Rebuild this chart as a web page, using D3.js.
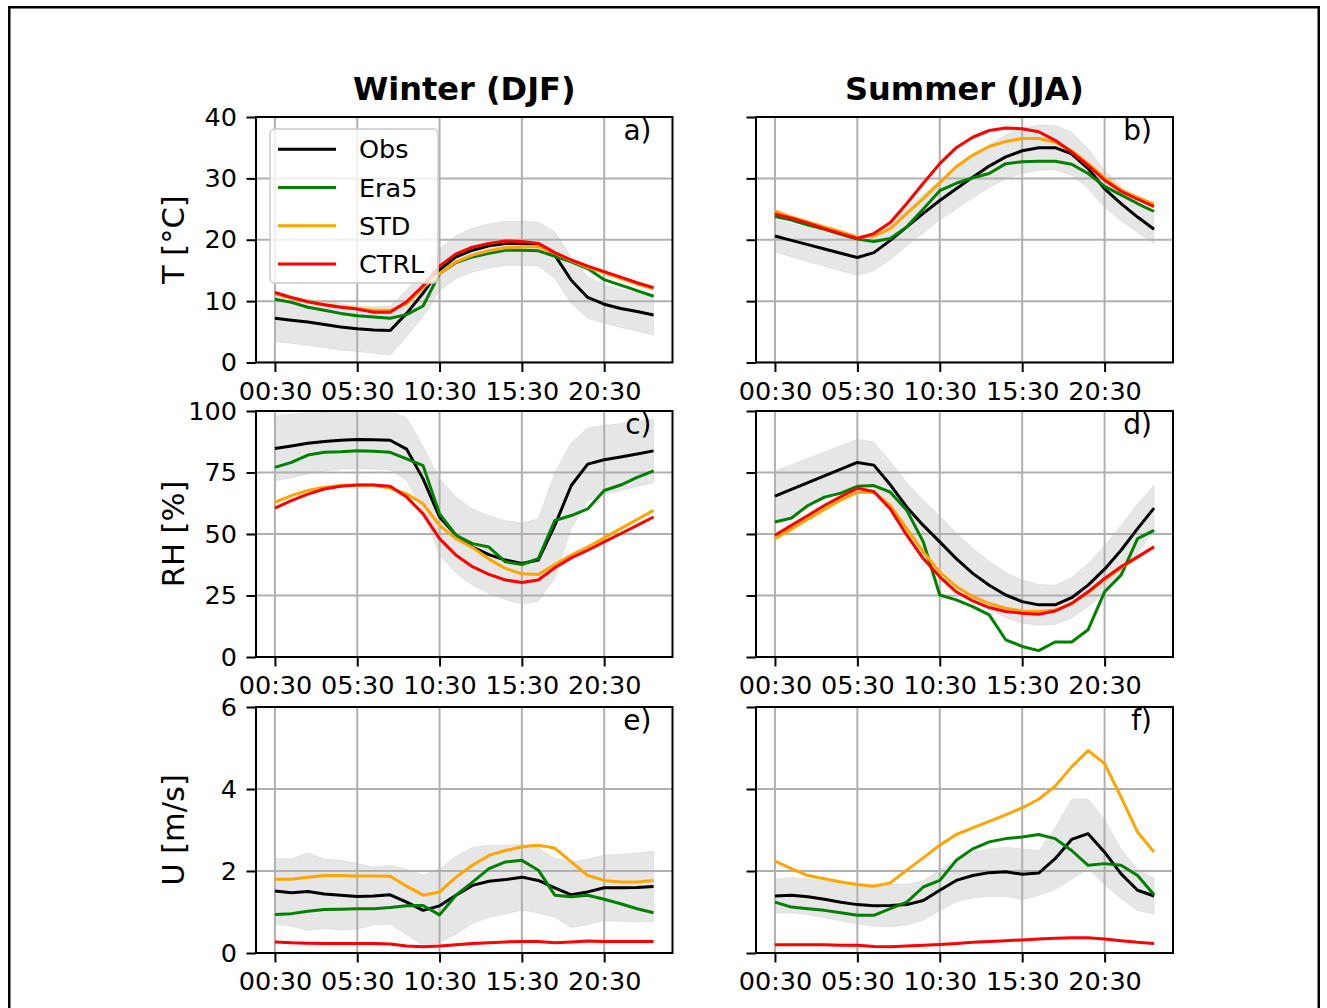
<!DOCTYPE html>
<html>
<head>
<meta charset="utf-8">
<script src="https://cdn.jsdelivr.net/npm/d3@7"></script>
<style>
  body { margin: 0; background: #fff; }
  svg { display: block; }
  text { font-family: "DejaVu Sans", "Noto Sans", sans-serif; fill: #000; }
</style>
</head>
<body>
<svg id="chart" width="1327" height="1008"></svg>
<script>
// ---- hourly categories -------------------------------------------------
const hours = ["00:30","01:30","02:30","03:30","04:30","05:30","06:30","07:30",
               "08:30","09:30","10:30","11:30","12:30","13:30","14:30","15:30",
               "16:30","17:30","18:30","19:30","20:30","21:30","22:30","23:30"];
const tickHours = ["00:30","05:30","10:30","15:30","20:30"];

const seasons = ["Winter (DJF)", "Summer (JJA)"];
const varLabels = ["T [°C]", "RH [%]", "U [m/s]"];
const varDomains = [[0, 40], [0, 100], [0, 6]];
const varTicks = [[0, 10, 20, 30, 40], [0, 25, 50, 75, 100], [0, 2, 4, 6]];
const panelLetters = [["a)", "b)"], ["c)", "d)"], ["e)", "f)"]];

const seriesNames = ["Obs", "Era5", "STD", "CTRL"];
const seriesColors = ["#000000", "#008000", "#ffa500", "#ff0000"];

// ---- temperature, winter ----------------------------------------------
const obsT_DJF  = [7.2, 6.9, 6.6, 6.2, 5.8, 5.5, 5.3, 5.2, 8.0, 11.3, 15.1, 17.2, 18.3, 19.0, 19.4, 19.4, 19.3, 17.5, 13.4, 10.6, 9.5, 8.8, 8.3, 7.75];
const sdT_DJF   = [3.8, 3.8, 3.8, 3.8, 3.8, 3.7, 3.8, 4.0, 3.8, 3.8, 3.4, 3.5, 3.6, 3.6, 3.6, 3.6, 3.6, 3.8, 3.8, 3.4, 3.1, 3.1, 3.2, 3.3];
const era5T_DJF = [10.3, 9.8, 9.0, 8.5, 8.0, 7.6, 7.4, 7.2, 7.8, 9.2, 14.5, 16.3, 17.2, 17.8, 18.3, 18.3, 18.2, 17.3, 16.4, 15.3, 13.5, 12.6, 11.7, 10.8];
const stdT_DJF  = [11.2, 10.5, 9.9, 9.4, 9.1, 8.8, 8.5, 8.5, 9.6, 12.2, 14.5, 16.4, 17.5, 18.2, 18.7, 18.8, 18.9, 17.8, 16.6, 15.5, 14.6, 13.7, 12.8, 12.0];
const ctrlT_DJF = [11.4, 10.6, 9.9, 9.4, 9.0, 8.7, 8.2, 8.2, 9.9, 12.5, 15.7, 17.7, 18.8, 19.4, 19.8, 19.7, 19.4, 17.9, 16.7, 15.7, 14.8, 13.9, 13.0, 12.2];

// ---- temperature, summer ----------------------------------------------
const obsT_JJA  = [20.6, 19.9, 19.2, 18.5, 17.8, 17.1, 17.9, 19.9, 22.1, 24.3, 26.4, 28.3, 30.2, 32.0, 33.5, 34.5, 35.0, 35.0, 34.0, 31.6, 28.3, 25.9, 23.7, 21.7];
const sdT_JJA   = [2.6, 2.7, 2.8, 2.8, 2.9, 2.9, 3.0, 3.1, 3.1, 3.2, 3.2, 3.3, 3.4, 3.5, 3.6, 3.7, 3.7, 3.6, 3.5, 3.3, 3.0, 2.8, 2.5, 2.3];
const era5T_JJA = [23.8, 23.2, 22.4, 21.7, 20.9, 20.1, 19.7, 20.2, 22.1, 25.0, 28.0, 29.2, 30.1, 30.8, 32.4, 32.7, 32.8, 32.8, 32.3, 30.8, 28.7, 27.3, 25.9, 24.6];
const stdT_JJA  = [24.7, 23.7, 22.9, 22.1, 21.3, 20.4, 20.6, 21.8, 24.3, 26.7, 29.3, 31.9, 33.8, 35.2, 36.0, 36.5, 36.5, 35.9, 34.5, 32.4, 30.1, 28.1, 26.9, 25.8];
const ctrlT_JJA = [24.2, 23.5, 22.7, 21.8, 21.0, 20.2, 21.0, 22.8, 25.9, 29.2, 32.4, 35.0, 36.7, 37.8, 38.2, 38.1, 37.6, 36.2, 34.3, 32.1, 29.7, 27.9, 26.6, 25.4];

// ---- relative humidity, winter ----------------------------------------
const obsRH_DJF  = [84.8, 85.8, 86.9, 87.6, 88.1, 88.4, 88.3, 88.1, 84.5, 72.4, 56.9, 49.5, 44.7, 41.6, 39.4, 38.0, 39.4, 53.5, 69.7, 78.4, 80.2, 81.3, 82.5, 83.8];
const sdRH_DJF   = [13.2, 13.0, 12.5, 12.0, 11.8, 12.0, 12.0, 12.0, 12.8, 13.4, 15.5, 15.5, 15.5, 15.8, 16.1, 16.5, 16.8, 21.5, 17.5, 14.8, 14.0, 13.6, 13.2, 13.0];
const era5RH_DJF = [77.1, 79.1, 82.1, 83.2, 83.4, 83.8, 83.6, 83.2, 80.5, 77.8, 58.2, 49.5, 46.1, 44.7, 38.7, 37.6, 40.0, 55.5, 57.5, 60.2, 67.7, 69.9, 73.0, 75.7];
const stdRH_DJF  = [62.9, 65.6, 67.7, 69.0, 69.7, 69.9, 69.9, 68.6, 66.3, 62.3, 53.5, 48.1, 44.5, 39.8, 36.0, 33.8, 33.5, 37.6, 41.4, 44.7, 48.4, 52.2, 55.9, 59.6];
const ctrlRH_DJF = [60.5, 63.6, 66.2, 68.3, 69.4, 69.9, 69.9, 69.4, 65.0, 58.2, 48.1, 41.4, 36.7, 33.6, 31.3, 30.3, 31.3, 36.3, 40.3, 43.4, 46.8, 50.1, 53.5, 56.9];

// ---- relative humidity, summer ----------------------------------------
const obsRH_JJA  = [65.4, 68.1, 70.9, 73.6, 76.4, 79.1, 78.0, 70.0, 60.9, 53.5, 46.8, 40.0, 34.0, 29.2, 25.2, 22.5, 21.2, 21.2, 24.1, 29.2, 35.7, 43.4, 52.2, 60.5];
const sdRH_JJA   = [10.3, 10.1, 9.9, 9.7, 9.6, 9.4, 9.4, 9.6, 10.0, 10.3, 10.5, 10.5, 10.2, 9.8, 9.3, 8.8, 8.3, 8.0, 8.2, 8.8, 9.6, 10.2, 10.0, 9.3];
const era5RH_JJA = [54.9, 56.5, 61.6, 65.0, 66.6, 69.4, 69.7, 67.0, 59.6, 46.8, 25.2, 23.2, 20.5, 17.1, 7.0, 4.3, 2.6, 6.1, 6.1, 11.1, 26.5, 33.3, 48.1, 51.5];
const stdRH_JJA  = [48.1, 52.0, 56.0, 60.0, 63.8, 67.0, 67.0, 61.6, 52.2, 42.7, 34.6, 28.6, 24.5, 21.8, 19.8, 18.7, 18.5, 19.1, 21.6, 26.2, 31.5, 36.4, 40.5, 44.9];
const ctrlRH_JJA = [49.5, 53.5, 57.5, 61.6, 65.2, 68.6, 67.3, 60.2, 49.5, 40.0, 32.6, 26.5, 22.8, 20.1, 18.5, 17.8, 17.4, 18.7, 21.8, 26.5, 31.9, 36.7, 40.7, 44.7];

// ---- wind speed, winter -----------------------------------------------
const obsU_DJF  = [1.51, 1.47, 1.50, 1.44, 1.41, 1.38, 1.39, 1.42, 1.24, 1.04, 1.15, 1.41, 1.65, 1.75, 1.79, 1.85, 1.77, 1.59, 1.42, 1.49, 1.59, 1.59, 1.60, 1.62];
const sdU_DJF   = [0.80, 0.82, 0.95, 0.85, 0.85, 0.80, 0.70, 0.72, 0.80, 0.86, 0.90, 0.95, 0.93, 0.88, 0.84, 0.80, 0.80, 0.72, 0.80, 0.80, 0.80, 0.82, 0.84, 0.86];
const era5U_DJF = [0.94, 0.96, 1.02, 1.06, 1.07, 1.08, 1.08, 1.11, 1.15, 1.16, 0.93, 1.41, 1.73, 2.06, 2.22, 2.26, 2.02, 1.41, 1.37, 1.41, 1.31, 1.20, 1.08, 0.98];
const stdU_DJF  = [1.80, 1.80, 1.85, 1.89, 1.89, 1.88, 1.88, 1.87, 1.63, 1.41, 1.49, 1.85, 2.14, 2.38, 2.50, 2.59, 2.63, 2.56, 2.22, 1.89, 1.77, 1.73, 1.73, 1.77];
const ctrlU_DJF = [0.27, 0.25, 0.24, 0.23, 0.23, 0.23, 0.23, 0.22, 0.17, 0.15, 0.17, 0.20, 0.23, 0.25, 0.27, 0.28, 0.28, 0.25, 0.27, 0.29, 0.28, 0.28, 0.28, 0.28];

// ---- wind speed, summer -----------------------------------------------
const obsU_JJA  = [1.39, 1.41, 1.37, 1.31, 1.24, 1.18, 1.15, 1.16, 1.18, 1.28, 1.53, 1.77, 1.89, 1.96, 1.98, 1.92, 1.95, 2.30, 2.77, 2.91, 2.46, 1.93, 1.53, 1.39];
const sdU_JJA   = [0.42, 0.43, 0.44, 0.45, 0.46, 0.47, 0.50, 0.52, 0.50, 0.48, 0.50, 0.52, 0.55, 0.58, 0.60, 0.62, 0.55, 0.75, 0.98, 0.85, 0.80, 0.60, 0.50, 0.44];
const era5U_JJA = [1.24, 1.12, 1.08, 1.04, 0.98, 0.92, 0.92, 1.08, 1.24, 1.61, 1.77, 2.26, 2.54, 2.71, 2.79, 2.83, 2.89, 2.79, 2.50, 2.14, 2.18, 2.14, 1.89, 1.42];
const stdU_JJA  = [2.24, 2.06, 1.89, 1.81, 1.73, 1.67, 1.63, 1.71, 2.02, 2.32, 2.63, 2.89, 3.05, 3.21, 3.37, 3.54, 3.75, 4.07, 4.54, 4.94, 4.62, 3.80, 2.95, 2.46];
const ctrlU_JJA = [0.20, 0.20, 0.20, 0.20, 0.19, 0.19, 0.16, 0.15, 0.17, 0.19, 0.21, 0.23, 0.26, 0.28, 0.30, 0.32, 0.34, 0.36, 0.37, 0.37, 0.34, 0.30, 0.26, 0.23];

// panel grid: rows = variables, columns = seasons
const panels = [
  [ { obs: obsT_DJF,  sd: sdT_DJF,  models: [era5T_DJF,  stdT_DJF,  ctrlT_DJF]  },
    { obs: obsT_JJA,  sd: sdT_JJA,  models: [era5T_JJA,  stdT_JJA,  ctrlT_JJA]  } ],
  [ { obs: obsRH_DJF, sd: sdRH_DJF, models: [era5RH_DJF, stdRH_DJF, ctrlRH_DJF] },
    { obs: obsRH_JJA, sd: sdRH_JJA, models: [era5RH_JJA, stdRH_JJA, ctrlRH_JJA] } ],
  [ { obs: obsU_DJF,  sd: sdU_DJF,  models: [era5U_DJF,  stdU_DJF,  ctrlU_DJF]  },
    { obs: obsU_JJA,  sd: sdU_JJA,  models: [era5U_JJA,  stdU_JJA,  ctrlU_JJA]  } ]
];

// ---- layout ------------------------------------------------------------
const colX = [[256, 672.5], [756, 1173]];
const rowY = [[117, 362.5], [411, 657], [707, 953]];
const tickFont = 25.5;
const lineW = 3;

const svg = d3.select("#chart");
svg.append("rect").attr("width", 1327).attr("height", 1008).attr("fill", "#fff");

// outer frame
svg.append("rect")
  .attr("x", 9.25).attr("y", 7.25).attr("width", 1309.5).attr("height", 1030)
  .attr("fill", "none").attr("stroke", "#000").attr("stroke-width", 2.5);

const defs = svg.append("defs");

panels.forEach((row, r) => {
  row.forEach((p, c) => {
    const [x0, x1] = colX[c];
    const [y0, y1] = rowY[r];
    const x = d3.scalePoint().domain(hours).range([x0, x1]).padding(1.15);
    const y = d3.scaleLinear().domain(varDomains[r]).range([y1, y0]);

    const clipId = `clip-${r}-${c}`;
    defs.append("clipPath").attr("id", clipId)
      .append("rect").attr("x", x0).attr("y", y0).attr("width", x1 - x0).attr("height", y1 - y0);

    const g = svg.append("g");
    const plot = g.append("g").attr("clip-path", `url(#${clipId})`);

    // observation spread (mean ± std)
    const band = d3.area()
      .x((d, i) => x(hours[i]))
      .y0((d, i) => y(d - p.sd[i]))
      .y1((d, i) => y(d + p.sd[i]));
    plot.append("path").datum(p.obs)
      .attr("d", band).attr("fill", "#808080").attr("fill-opacity", 0.2)
      .attr("stroke", "#808080").attr("stroke-opacity", 0.12).attr("stroke-width", 1);

    // grid
    plot.selectAll(".gx").data(tickHours).join("line")
      .attr("x1", d => x(d)).attr("x2", d => x(d)).attr("y1", y0).attr("y2", y1)
      .attr("stroke", "#b0b0b0").attr("stroke-width", 2);
    plot.selectAll(".gy").data(varTicks[r]).join("line")
      .attr("x1", x0).attr("x2", x1).attr("y1", d => y(d)).attr("y2", d => y(d))
      .attr("stroke", "#b0b0b0").attr("stroke-width", 2);

    // series lines
    const line = d3.line().x((d, i) => x(hours[i])).y(d => y(d));
    [p.obs, ...p.models].forEach((vals, k) => {
      plot.append("path").datum(vals)
        .attr("d", line).attr("fill", "none")
        .attr("stroke", seriesColors[k]).attr("stroke-width", lineW)
        .attr("stroke-linejoin", "round");
    });

    // axes
    const xAxis = d3.axisBottom(x).tickValues(tickHours).tickSize(9.5).tickPadding(9.5);
    const gx = g.append("g").attr("transform", `translate(0,${y1})`).call(xAxis);
    const yAxis = d3.axisLeft(y).tickValues(varTicks[r]).tickSize(9.5).tickPadding(9.5)
      .tickFormat(c === 0 ? d3.format("d") : () => "");
    const gy = g.append("g").attr("transform", `translate(${x0},0)`).call(yAxis);
    [gx, gy].forEach(a => {
      a.select(".domain").remove();
      a.selectAll(".tick line").attr("stroke", "#000").attr("stroke-width", 2);
      a.selectAll(".tick text")
        .attr("font-family", '"DejaVu Sans", sans-serif')
        .attr("font-size", tickFont).attr("fill", "#000");
    });

    // spines
    g.append("rect")
      .attr("x", x0).attr("y", y0).attr("width", x1 - x0).attr("height", y1 - y0)
      .attr("fill", "none").attr("stroke", "#000").attr("stroke-width", 2);

    // panel letter
    g.append("text")
      .attr("x", x1 - 21).attr("y", y0 + 23)
      .attr("text-anchor", "end").attr("font-size", 28)
      .text(panelLetters[r][c]);

    // column titles
    if (r === 0) {
      g.append("text")
        .attr("x", (x0 + x1) / 2).attr("y", 100)
        .attr("text-anchor", "middle").attr("font-size", 32).attr("font-weight", "bold")
        .text(seasons[c]);
    }

    // row labels
    if (c === 0) {
      g.append("text")
        .attr("transform", `translate(184,${(y0 + y1) / 2}) rotate(-90)`)
        .attr("text-anchor", "middle").attr("font-size", 30.5)
        .text(varLabels[r]);
    }

    // legend
    if (r === 0 && c === 0) {
      const lg = g.append("g");
      lg.append("rect")
        .attr("x", 270).attr("y", 129).attr("width", 168).attr("height", 154)
        .attr("rx", 5).attr("ry", 5)
        .attr("fill", "#fff").attr("fill-opacity", 0.8)
        .attr("stroke", "#cccccc").attr("stroke-opacity", 0.8).attr("stroke-width", 2);
      seriesNames.forEach((name, k) => {
        const ly = 149.3 + 38.2 * k;
        lg.append("line")
          .attr("x1", 278).attr("x2", 336).attr("y1", ly).attr("y2", ly)
          .attr("stroke", seriesColors[k]).attr("stroke-width", lineW);
        lg.append("text")
          .attr("x", 359).attr("y", ly).attr("dy", "0.36em")
          .attr("font-size", tickFont).text(name);
      });
    }
  });
});
</script>
</body>
</html>
